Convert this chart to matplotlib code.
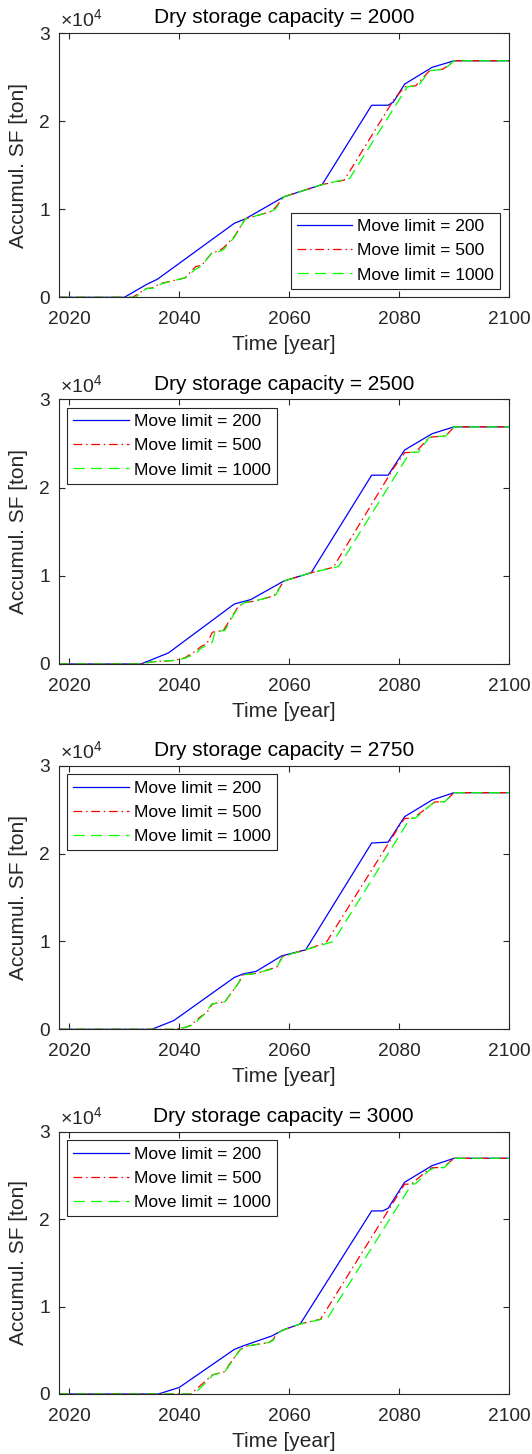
import matplotlib
matplotlib.use("Agg")
import matplotlib.pyplot as plt
from matplotlib.ticker import FuncFormatter

plt.rcParams['font.family'] = ['Liberation Sans', 'DejaVu Sans']
plt.rcParams['mathtext.fontset'] = 'custom'
plt.rcParams['mathtext.rm'] = 'Liberation Sans'
plt.rcParams['mathtext.it'] = 'Liberation Sans'

# ---- data (years, accumulated SF in tons) ----
capacities = [2000, 2500, 2750, 3000]
move_limits = [200, 500, 1000]

# capacity 2000
c2000_ml200_years = [2018, 2030, 2034, 2036, 2050, 2052, 2059, 2066, 2075, 2078, 2079, 2081, 2086, 2090, 2100]
c2000_ml200_vals = [0, 0, 1450, 2050, 8400, 8900, 11400, 12800, 21800, 21800, 22200, 24200, 26100, 26850, 26850]
c2000_ml500_years = [2018, 2031.5, 2033, 2034, 2035, 2036.5, 2041, 2043, 2044, 2046, 2047, 2048, 2050, 2052,
                     2056.5, 2057.5, 2059, 2066, 2070, 2071, 2079, 2081, 2083, 2085.5, 2088, 2090, 2100]
c2000_ml500_vals = [0, 0, 600, 1000, 1050, 1550, 2200, 3500, 3600, 5100, 5200, 5600, 6900, 8900,
                    9700, 10200, 11400, 12800, 13300, 14300, 22400, 23900, 24000, 25700, 25900, 26850, 26850]
c2000_ml1000_years = [2018, 2032, 2033, 2034, 2035.5, 2036.8, 2041, 2043, 2044, 2046, 2047.3, 2048, 2050, 2052,
                      2056.5, 2057.5, 2059, 2066, 2071, 2081.5, 2083.5, 2085.5, 2088.3, 2090, 2100]
c2000_ml1000_vals = [0, 0, 500, 1000, 1050, 1550, 2200, 3200, 3550, 5100, 5200, 5400, 6800, 8900,
                     9700, 10000, 11400, 12800, 13500, 23900, 24000, 25700, 25900, 26850, 26850]

# capacity 2500
c2500_ml200_years = [2018, 2033, 2038, 2050, 2053, 2059, 2064, 2075, 2078, 2081, 2086, 2090, 2100]
c2500_ml200_vals = [0, 0, 1250, 6800, 7300, 9400, 10350, 21400, 21400, 24250, 26100, 26880, 26880]
c2500_ml500_years = [2018, 2033, 2035, 2039, 2041, 2043, 2044, 2045, 2046, 2048, 2050.7, 2052, 2053.5, 2056.5,
                     2057.5, 2059, 2064, 2068, 2079, 2081, 2083, 2085.5, 2088.5, 2090, 2100]
c2500_ml500_vals = [0, 0, 250, 400, 700, 1500, 2000, 2300, 3600, 3800, 6500, 7000, 7100, 7600,
                    7900, 9400, 10350, 10950, 22200, 23950, 24000, 25700, 25850, 26880, 26880]
c2500_ml1000_years = [2018, 2033, 2035, 2039, 2041, 2043, 2044, 2046, 2046.5, 2048.3, 2050.7, 2052, 2053.5, 2056.5,
                      2057.5, 2059, 2064, 2069, 2082, 2083.5, 2085.5, 2088.5, 2090, 2100]
c2500_ml1000_vals = [0, 0, 250, 400, 650, 1200, 1800, 2500, 3700, 3800, 6500, 7000, 7100, 7600,
                     7800, 9400, 10350, 11050, 24000, 24000, 25700, 25850, 26880, 26880]

# capacity 2750
c2750_ml200_years = [2018, 2035, 2039, 2050, 2051.6, 2054, 2058.6, 2063, 2075, 2078, 2081, 2086, 2090, 2100]
c2750_ml200_vals = [0, 0, 1000, 5900, 6300, 6600, 8350, 9050, 21200, 21300, 24200, 26100, 26930, 26930]
c2750_ml500_years = [2018, 2039, 2041, 2042, 2044, 2045, 2046, 2048.3, 2050.7, 2051.6, 2054, 2055, 2057.7,
                     2058.8, 2063, 2066.7, 2079.5, 2081, 2082.5, 2085.5, 2086.5, 2088.3, 2090, 2100]
c2750_ml500_vals = [0, 0, 200, 450, 1500, 1900, 2880, 3140, 5210, 6200, 6370, 6560, 7080,
                    8300, 9050, 9850, 22600, 24000, 24000, 25400, 25870, 25900, 26930, 26930]
c2750_ml1000_years = [2018, 2039.3, 2041.5, 2042.5, 2044.5, 2045.9, 2048.3, 2050.7, 2051.6, 2054, 2055, 2057.7,
                      2058.8, 2063, 2068, 2082, 2083, 2085.5, 2086.5, 2088.3, 2090, 2100]
c2750_ml1000_vals = [0, 0, 300, 500, 1700, 2880, 3140, 5210, 6200, 6370, 6560, 7000,
                     8300, 9050, 9980, 24000, 24050, 25400, 25870, 25900, 26930, 26930]

# capacity 3000
c3000_ml200_years = [2018, 2036.2, 2040, 2050, 2051.6, 2056.8, 2059, 2062, 2075, 2077, 2078, 2081, 2086, 2090, 2100]
c3000_ml200_vals = [0, 0, 760, 5100, 5500, 6630, 7350, 8010, 20940, 20940, 21240, 24220, 26120, 26960, 26960]
c3000_ml500_years = [2018, 2042, 2043, 2045.5, 2046, 2048.3, 2049, 2051, 2052, 2056.2, 2057, 2058, 2059, 2062,
                     2065.7, 2077.7, 2081, 2082.2, 2085, 2086, 2088, 2090, 2100]
c3000_ml500_vals = [0, 0, 500, 1900, 2180, 2560, 3300, 5030, 5450, 5880, 6180, 7130, 7350, 8010,
                    8550, 20670, 24000, 24000, 25500, 25890, 25900, 26960, 26960]
c3000_ml1000_years = [2018, 2042.5, 2043.2, 2045.3, 2046.1, 2048.3, 2049, 2051, 2052, 2056.2, 2057, 2058, 2059,
                      2062, 2067, 2082.3, 2083, 2085.5, 2086.5, 2088.2, 2090, 2100]
c3000_ml1000_vals = [0, 0, 300, 1600, 2180, 2560, 3200, 5000, 5450, 5880, 6100, 7000, 7350,
                     8010, 8700, 24000, 24050, 25600, 25890, 25900, 26960, 26960]

x_ticks = [2020, 2040, 2060, 2080, 2100]
y_ticks = [0, 10000, 20000, 30000]

panels = [
    (c2000_ml200_years, c2000_ml200_vals, c2000_ml500_years, c2000_ml500_vals, c2000_ml1000_years, c2000_ml1000_vals),
    (c2500_ml200_years, c2500_ml200_vals, c2500_ml500_years, c2500_ml500_vals, c2500_ml1000_years, c2500_ml1000_vals),
    (c2750_ml200_years, c2750_ml200_vals, c2750_ml500_years, c2750_ml500_vals, c2750_ml1000_years, c2750_ml1000_vals),
    (c3000_ml200_years, c3000_ml200_vals, c3000_ml500_years, c3000_ml500_vals, c3000_ml1000_years, c3000_ml1000_vals),
]

W, H = 532, 1454
fig = plt.figure(figsize=(W / 100, H / 100), dpi=100)

left_px, right_px = 58.5, 509
tops = [33, 399.3, 765.7, 1131.7]
bottoms = [297.3, 664, 1029.3, 1394]

dark = '#262626'
for i, cap in enumerate(capacities):
    ax = fig.add_axes([left_px / W, 1 - bottoms[i] / H, (right_px - left_px) / W, (bottoms[i] - tops[i]) / H])
    by, bv, ry, rv, gy, gv = panels[i]
    ax.plot(by, bv, color='#0000ff', lw=0.9, label=f'Move limit = {move_limits[0]}')
    lr, = ax.plot(ry, rv, color='#ff0000', lw=0.9, label=f'Move limit = {move_limits[1]}')
    lr.set_dashes([7, 3, 1.2, 3])
    lg, = ax.plot(gy, gv, color='#00ff00', lw=0.9, label=f'Move limit = {move_limits[2]}')
    lg.set_dashes([9, 5])
    ax.set_xlim(2018, 2100)
    ax.set_ylim(0, 30000)
    ax.set_xticks(x_ticks)
    ax.set_yticks(y_ticks)
    ax.yaxis.set_major_formatter(FuncFormatter(lambda v, p: f'{v / 1e4:g}'))
    ax.tick_params(direction='in', top=True, right=True, length=4, width=0.8,
                   colors=dark, labelsize=13.8, pad=6)
    ax.tick_params(axis='x', pad=10)
    for s in ax.spines.values():
        s.set_color(dark)
        s.set_linewidth(0.8)
    ax.set_title(f'Dry storage capacity = {cap}', fontsize=15, pad=7, color='#000000')
    ax.set_ylabel('Accumul. SF [ton]', fontsize=15, color=dark, labelpad=8)
    ax.set_xlabel('Time [year]', fontsize=15, color=dark, labelpad=5)
    ax.text(0.003, 1.012, r'$\times10^{4}$', transform=ax.transAxes, fontsize=14,
            color=dark, ha='left', va='bottom')
    loc = 'lower right' if i == 0 else 'upper left'
    leg = ax.legend(loc=loc, fontsize=12.5, frameon=True, fancybox=False, shadow=False,
                    borderaxespad=0.5, handlelength=3.2, handletextpad=0.3,
                    labelspacing=0.52, borderpad=0.35, framealpha=1)
    leg.get_frame().set_edgecolor(dark)
    leg.get_frame().set_linewidth(0.8)

fig.savefig('out.png', dpi=100)
